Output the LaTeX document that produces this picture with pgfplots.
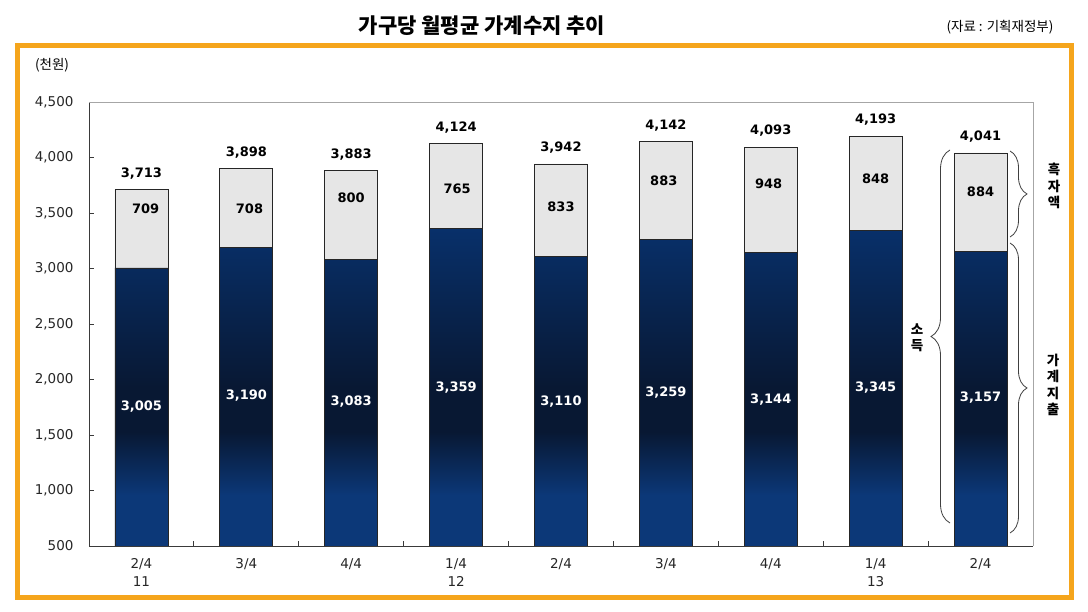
\documentclass[border=0pt]{standalone}
\usepackage{fontspec}
\setmainfont{DejaVu Sans}
\newfontfamily\kr{Noto Sans CJK KR}
\usepackage{pgfplots}
\pgfplotsset{compat=1.18}
\usepackage{pgfplotstable}
\usetikzlibrary{decorations.pathreplacing}

\definecolor{frameorange}{HTML}{F5A51C}
\definecolor{barnavy}{HTML}{08306A}
\definecolor{barnavybot}{HTML}{0C3878}
\definecolor{bardark}{HTML}{081833}
\definecolor{bargray}{HTML}{E6E6E6}
\definecolor{axisdark}{HTML}{3A3A3A}

\pgfdeclareverticalshading{barshade}{100bp}{color(0bp)=(barnavybot); color(25bp)=(barnavybot); color(33bp)=(barnavybot); color(43bp)=(bardark); color(50bp)=(bardark); color(75bp)=(barnavy); color(100bp)=(barnavy)}

\pgfplotstableread{
x bottom total totlab
0 3005 3713 3,713
1 3190 3898 3,898
2 3083 3883 3,883
3 3359 4124 4,124
4 3110 3942 3,942
5 3259 4142 4,142
6 3144 4093 4,093
7 3345 4193 4,193
8 3157 4041 4,041
}\data

\pgfplotstableread{
x y lab
0.04 3536 709
1.03 3536 708
2.00 3635 800
3.01 3716 765
4.00 3554 833
4.98 3788 883
5.98 3761 948
7.00 3806 848
8.00 3689 884
}\toplab

\pgfplotstableread{
x y lab
0 1752 3,005
1 1851 3,190
2 1797 3,083
3 1923 3,359
4 1797 3,110
5 1878 3,259
6 1815 3,144
7 1923 3,345
8 1833 3,157
}\botlab

\begin{document}
\begin{tikzpicture}[x=1pt,y=1pt]
\useasboundingbox (0,0) rectangle (1088,612);
\fill[white] (0,0) rectangle (1088,612);
\begin{axis}[
  at={(89pt,66pt)}, anchor=south west,
  scale only axis, width=944pt, height=444pt,
  xmin=-0.5, xmax=8.5, ymin=500, ymax=4500,
  axis x line*=bottom, axis y line*=left,
  axis line style={-, draw=axisdark, line width=0.9pt},
  tick align=inside,
  major tick length=5pt,
  tick style={draw=axisdark, line width=0.8pt},
  ytick={500,1000,...,4500},
  scaled y ticks=false,
  /pgf/number format/1000 sep={,},
  /pgf/number format/assume math mode=true,
  yticklabel style={font=\fontsize{13.5}{16}\selectfont, xshift=-12pt, text=black!85},
  xtick={0.5,1.5,...,7.5},
  xticklabels={{},{},{},{},{},{},{},{}},
  extra x ticks={0,1,...,8},
  extra x tick labels={{2/4\\11},{3/4},{4/4},{1/4\\12},{2/4},{3/4},{4/4},{1/4\\13},{2/4}},
  extra x tick style={major tick length=0pt, xticklabel style={align=center, font=\fontsize{13.5}{18}\selectfont, yshift=-9pt, text=black!85}},
]
\addplot[ybar, bar width=53pt, bar shift=0pt, fill=bargray, draw=black!85, line width=0.8pt] table[x=x, y=total] {\data};
\addplot[ybar, bar width=53pt, bar shift=0pt, shade, shading=barshade, draw=black!85, line width=0.8pt] table[x=x, y=bottom] {\data};
\addplot[mark=none, draw=none, nodes near coords, point meta=explicit symbolic,
  every node near coord/.append style={anchor=base, yshift=12.3pt, inner sep=0pt, font=\bfseries\fontsize{13}{15}\selectfont, text=black}]
  table[x=x, y=total, meta=totlab] {\data};
\addplot[mark=none, draw=none, nodes near coords, point meta=explicit symbolic,
  every node near coord/.append style={anchor=center, inner sep=0pt, font=\bfseries\fontsize{13}{15}\selectfont, text=black}]
  table[x=x, y=y, meta=lab] {\toplab};
\addplot[mark=none, draw=none, nodes near coords, point meta=explicit symbolic,
  every node near coord/.append style={anchor=center, inner sep=0pt, font=\bfseries\fontsize{13}{15}\selectfont, text=white}]
  table[x=x, y=y, meta=lab] {\botlab};
\end{axis}
% light gray top and right border of the plot box
\draw[black!35, line width=0.9pt] (89,510) -- (1033,510) -- (1033,66);
% braces
\draw[decorate, decoration={brace, amplitude=17pt}, line width=0.8pt, black!75] (1010,461) -- (1010,375);
\draw[decorate, decoration={brace, amplitude=17pt}, line width=0.8pt, black!75] (1010,369) -- (1010,79);
\draw[decorate, decoration={brace, amplitude=19pt}, line width=0.8pt, black!75] (950,89) -- (950,462);
\node[font=\kr\bfseries\fontsize{13.5}{16.5}\selectfont, align=center] at (1054,426) {흑\\자\\액};
\node[font=\kr\bfseries\fontsize{13.5}{16.5}\selectfont, align=center] at (1053,227) {가\\계\\지\\출};
\node[font=\kr\bfseries\fontsize{13.5}{16.5}\selectfont, align=center] at (917,274) {소\\득};
% titles
\node[font=\kr\bfseries\fontsize{21}{24}\selectfont] at (482,586) {가구당 월평균 가계수지 추이};
\node[font=\kr\fontsize{13.5}{16}\selectfont] at (1000,585) {(자료 : 기획재정부)};
\node[font=\kr\fontsize{13.5}{16}\selectfont] at (52,547) {(천원)};
% orange frame
\draw[frameorange, line width=5pt] (17,14) rectangle (1071,566);
\end{tikzpicture}
\end{document}
